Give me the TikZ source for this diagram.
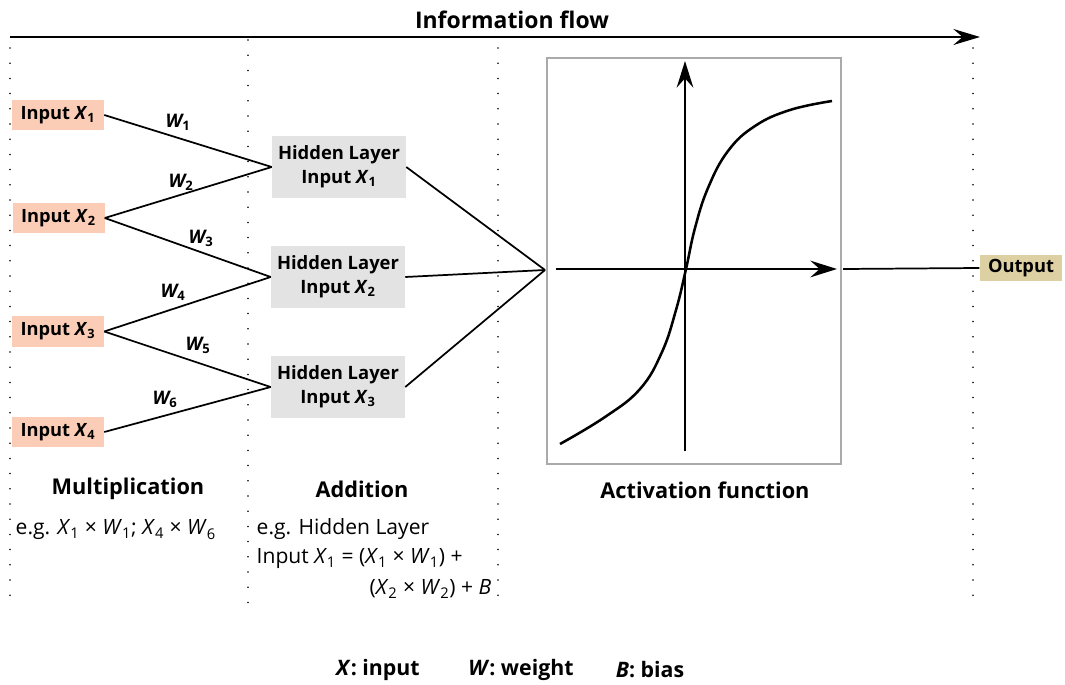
\documentclass[tikz,border=0pt]{standalone}
\usepackage{fontspec}
\setmainfont{Open Sans}
\usetikzlibrary{arrows.meta}
\definecolor{inpfill}{HTML}{FBCDB6}
\definecolor{hidfill}{HTML}{E3E3E3}
\definecolor{outfill}{HTML}{DDD0A2}
\definecolor{boxline}{HTML}{AAAAAA}
\begin{document}
\begin{tikzpicture}[x=0.75pt,y=-0.75pt,
  inpbox/.style={fill=inpfill, minimum width=69pt, minimum height=23pt, inner sep=0pt, font=\fontsize{13.7}{15}\selectfont\bfseries},
  hidbox/.style={fill=hidfill, minimum width=100.5pt, minimum height=46.5pt, inner sep=0pt, align=center, font=\fontsize{13.8}{18}\selectfont\bfseries},
  outbox/.style={fill=outfill, minimum width=62pt, minimum height=19pt, inner sep=0pt, font=\fontsize{13.7}{15}\selectfont\bfseries},
  wlabel/.style={font=\fontsize{14}{15}\selectfont\bfseries\itshape},
  head/.style={font=\fontsize{16.3}{19}\selectfont\bfseries},
  titlef/.style={font=\fontsize{17.2}{20}\selectfont\bfseries},
  note/.style={font=\fontsize{15.8}{18}\selectfont},
  legend/.style={font=\fontsize{16}{18}\selectfont\bfseries},
  conn/.style={line width=1.3pt},
  dotline/.style={line width=1.3pt, line cap=round, dash pattern=on 0pt off 11.4pt},
  bigarrow/.style={line width=1.4pt, -{Stealth[length=20pt,width=12pt,inset=7pt]}},
  axisarrow/.style={line width=1.3pt, -{Stealth[length=20pt,width=12.5pt,inset=7pt]}}
]
\useasboundingbox (0,0) rectangle (1065,685);
% title and flow arrow
\node[titlef] (title) at (512,20) {Information flow};
\coordinate (flowA) at (10,37);
\coordinate (flowB) at (980,37);
\draw[bigarrow] (flowA) -- (flowB);
% dotted separators
\coordinate (d1a) at (10,48); \coordinate (d1b) at (10,600);
\coordinate (d2a) at (248,40); \coordinate (d2b) at (248,605);
\coordinate (d3a) at (498,48); \coordinate (d3b) at (498,600);
\coordinate (d4a) at (973,48); \coordinate (d4b) at (973,605);
\draw[dotline] (d1a) -- (d1b);
\draw[dotline] (d2a) -- (d2b);
\draw[dotline] (d3a) -- (d3b);
\draw[dotline] (d4a) -- (d4b);
% inputs
\node[inpbox] (in1) at (58,115) {Input \textit{X}\textsubscript{1}};
\node[inpbox] (in2) at (58.5,218) {Input \textit{X}\textsubscript{2}};
\node[inpbox] (in3) at (58,331.5) {Input \textit{X}\textsubscript{3}};
\node[inpbox] (in4) at (58,432) {Input \textit{X}\textsubscript{4}};
% hidden
\node[hidbox] (h1) at (339,167) {Hidden Layer\\Input \textit{X}\textsubscript{1}};
\node[hidbox] (h2) at (338,277) {Hidden Layer\\Input \textit{X}\textsubscript{2}};
\node[hidbox] (h3) at (338,387) {Hidden Layer\\Input \textit{X}\textsubscript{3}};
% connections
\draw[conn] (in1.east) -- (h1.west);
\draw[conn] (in2.east) -- (h1.west);
\draw[conn] (in2.east) -- (h2.west);
\draw[conn] (in3.east) -- (h2.west);
\draw[conn] (in3.east) -- (h3.west);
\draw[conn] (in4.east) -- (h3.west);
% weights
\node[wlabel] (w1) at (178,122) {W\textsubscript{\upshape 1}};
\node[wlabel] (w2) at (181,182) {W\textsubscript{\upshape 2}};
\node[wlabel] (w3) at (201,238) {W\textsubscript{\upshape 3}};
\node[wlabel] (w4) at (173,292) {W\textsubscript{\upshape 4}};
\node[wlabel] (w5) at (198,345) {W\textsubscript{\upshape 5}};
\node[wlabel] (w6) at (165,399) {W\textsubscript{\upshape 6}};
% activation box
\node[draw=boxline, line width=1.2pt, minimum width=220.5pt, minimum height=304.5pt, inner sep=0pt] (act) at (694,261) {};
\coordinate (conv) at (545,270);
\draw[conn] (h1.east) -- (conv);
\draw[conn] (h2.east) -- (conv);
\draw[conn] (h3.east) -- (conv);
\coordinate (xa) at (556,269); \coordinate (xb) at (837,269);
\coordinate (ya) at (685,451); \coordinate (yb) at (685,61);
\draw[axisarrow] (xa) -- (xb);
\draw[axisarrow] (ya) -- (yb);
\draw[line width=1.9pt] plot[smooth, tension=0.7] coordinates {(560,444) (605,417) (640,389) (662,352) (676,310) (686,269) (695,228) (708,188) (728,151) (755,126) (790,110) (832,101)};
% output
\node[outbox] (out) at (1021,268) {Output};
\coordinate (actout) at (843,269);
\draw[conn] (actout) -- (out.west);
% headings
\node[head] (mult) at (128,489) {Multiplication};
\node[head] (add) at (362,489) {Addition};
\node[head] (actf) at (705,490) {Activation function};
% notes
\node[note, anchor=west] (n1) at (11,530) {e.g. \textit{X}\textsubscript{1} × \textit{W}\textsubscript{1}; \textit{X}\textsubscript{4} × \textit{W}\textsubscript{6}};
\node[note, anchor=west] (n2) at (252,529) {e.g. Hidden Layer};
\node[note, anchor=west] (n3) at (252,559) {Input \textit{X}\textsubscript{1} = (\textit{X}\textsubscript{1} × \textit{W}\textsubscript{1}) +};
\node[note, anchor=east] (n4) at (496,589) {(\textit{X}\textsubscript{2} × \textit{W}\textsubscript{2}) + \textit{B}};
% legend
\node[legend] (lx) at (378,670) {\textit{X}: input};
\node[legend] (lw) at (521,670) {\textit{W}: weight};
\node[legend] (lb) at (650,670) {\textit{B}: bias};
\end{tikzpicture}
\end{document}
